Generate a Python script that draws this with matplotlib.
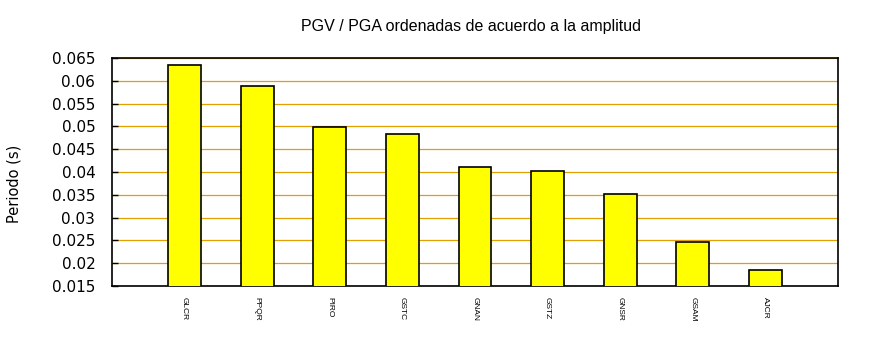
import matplotlib
matplotlib.use("Agg")
import matplotlib.pyplot as plt
import numpy as np

stations = ["GLCR", "PPQR", "PIRO", "GSTC", "GNAN", "GSTZ", "GNSR", "GSAM", "AJCR"]
values = [0.0635, 0.0588, 0.0498, 0.0483, 0.0411, 0.0402, 0.0351, 0.0246, 0.0184]
yticks = [0.015, 0.02, 0.025, 0.03, 0.035, 0.04, 0.045, 0.05, 0.055, 0.06, 0.065]
ytick_labels = ["0.015", "0.02", "0.025", "0.03", "0.035", "0.04", "0.045", "0.05", "0.055", "0.06", "0.065"]

fig = plt.figure(figsize=(8.7, 3.5), dpi=100)
ax = fig.add_axes([112/870, 1 - 286/350, (838-112)/870, (286-58)/350])

x = np.arange(len(stations))
ax.bar(x, values, width=0.45, color="#ffff00", edgecolor="black", linewidth=1.2, zorder=3)

ax.set_xlim(-1, len(stations))
ax.set_ylim(0.015, 0.065)
ax.set_yticks(yticks)
ax.set_yticklabels(ytick_labels, fontsize=11, family="DejaVu Sans")
ax.tick_params(axis="y", direction="in", length=4, width=1, pad=12)
ax.tick_params(axis="x", length=0, pad=8)
ax.set_xticks(x)
ax.set_xticklabels(stations, rotation=270, fontsize=6, family="Liberation Sans", va="top")

ax.yaxis.grid(True, color="#e0a000", linewidth=0.9, zorder=0)
ax.set_axisbelow(True)
for s in ax.spines.values():
    s.set_linewidth(1.2)

ax.set_ylabel("Periodo (s)", fontsize=10.5, family="DejaVu Sans", va="center")
ax.yaxis.set_label_coords(-0.135, 0.45)
fig.text(471.5/870, 1 - 27/350, "PGV / PGA ordenadas de acuerdo a la amplitud",
         ha="center", va="center", fontsize=11.5, family="Liberation Sans")

fig.savefig("out.png", dpi=100)
